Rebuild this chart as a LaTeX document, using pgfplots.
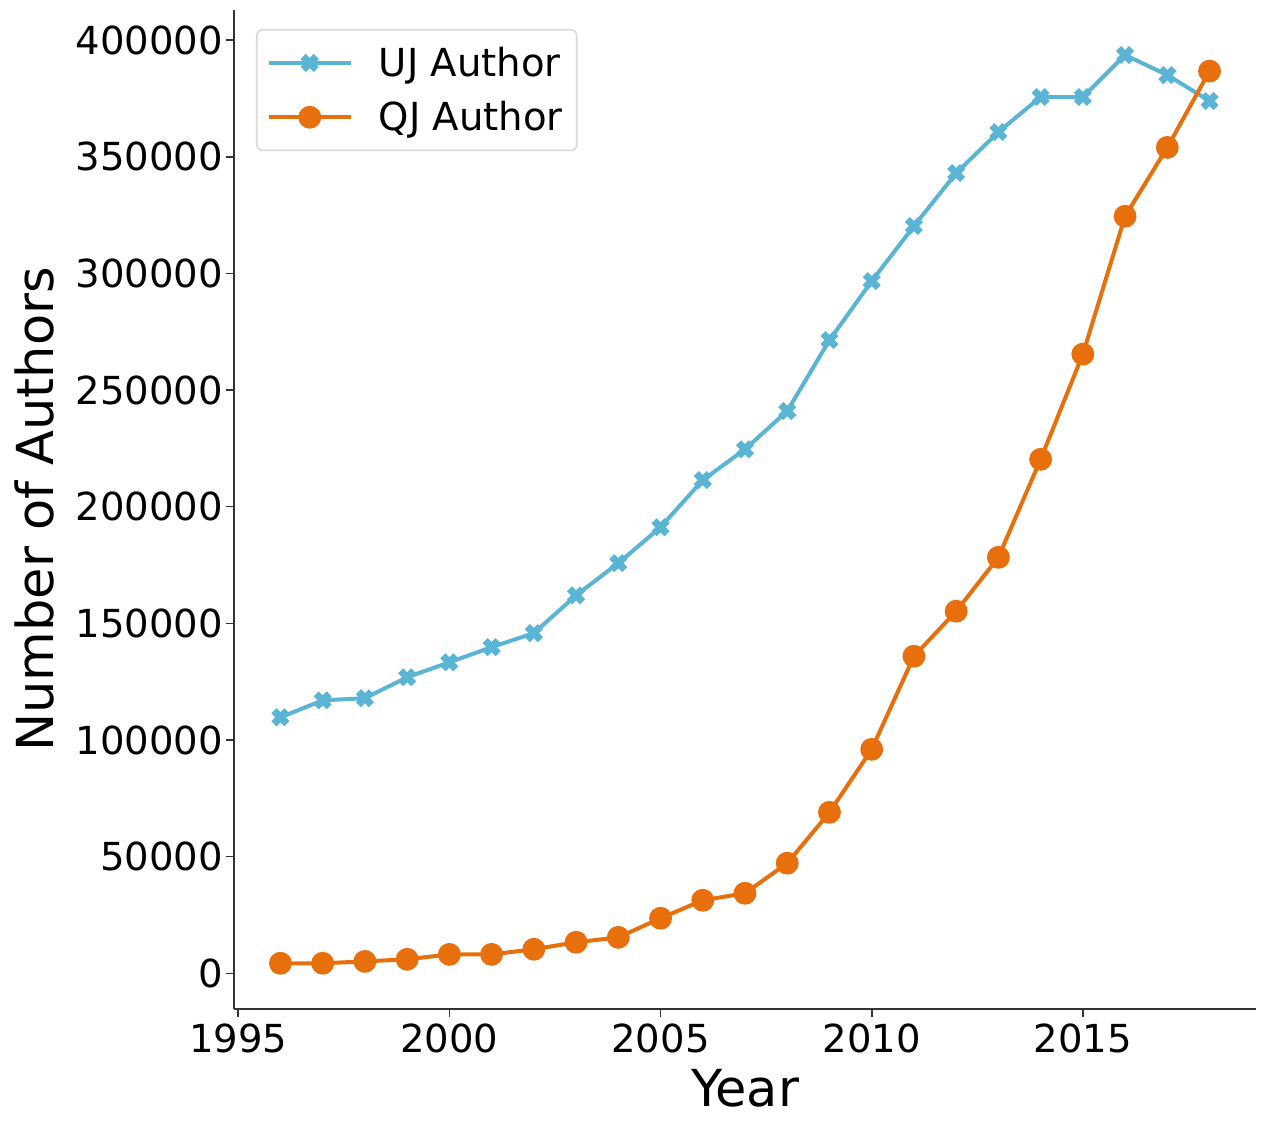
\documentclass[border=0pt]{standalone}
\usepackage{fontspec}
\setmainfont{DejaVu Sans}
\usepackage{pgfplots}
\pgfplotsset{compat=1.18}
\definecolor{ujblue}{HTML}{5AB4D4}
\definecolor{qjorange}{HTML}{E8700C}

\begin{document}
\begin{tikzpicture}
\begin{axis}[
  name=ax,
  scale only axis,
  width=511pt, height=499.5pt,
  xmin=1994.9, xmax=2019.1,
  ymin=-15300, ymax=412900,
  axis x line*=bottom, axis y line*=left,
  axis line style={line width=0.8pt, black!80},
  xtick={1995,2000,2005,2010,2015},
  ytick={0,50000,...,400000},
  scaled y ticks=false,
  tick align=outside,
  major tick length=4pt,
  tick style={line width=0.8pt, black!80},
  /pgf/number format/fixed,
  /pgf/number format/1000 sep={},
  /pgf/number format/assume math mode=true,
  ticklabel style={font=\fontsize{19.3}{23}\selectfont},
  yticklabel style={xshift=2pt},
  xlabel={Year}, ylabel={Number of Authors},
  label style={font=\fontsize{25.5}{30}\selectfont},
  ylabel shift=4pt, xlabel shift=1pt,
  legend style={at={(0.0215,0.981)}, anchor=north west,
    draw=black!15, rounded corners=3pt, line width=0.8pt,
    font=\fontsize{19.3}{23}\selectfont,
    row sep=7pt, column sep=11pt, inner xsep=5pt, inner ysep=6.5pt},
  legend cell align=left,
  legend image code/.code={
    \draw[mark repeat=2, mark phase=2, #1] plot coordinates {(0pt,0pt) (20.5pt,0pt) (41pt,0pt)};
  },
]
\addplot[color=ujblue, line width=2pt, mark=x, mark size=4.6pt,
  mark options={line width=3.6pt, solid}] coordinates {
(1996,109750) (1997,117000) (1998,117900) (1999,126900) (2000,133300)
(2001,139800) (2002,145800) (2003,162000) (2004,175800) (2005,191200)
(2006,211400) (2007,224600) (2008,241000) (2009,271400) (2010,296700)
(2011,320300) (2012,343000) (2013,360600) (2014,375600) (2015,375600)
(2016,393600) (2017,385000) (2018,373900)
};
\addlegendentry{UJ Author}
\addplot[color=qjorange, line width=2pt, mark=*, mark size=4.7pt,
  mark options={solid, draw=qjorange, fill=qjorange}] coordinates {
(1996,4300) (1997,4300) (1998,5100) (1999,6000) (2000,8100)
(2001,8100) (2002,10300) (2003,13300) (2004,15400) (2005,23600)
(2006,31300) (2007,34300) (2008,47200) (2009,69000) (2010,96000)
(2011,135900) (2012,155200) (2013,178300) (2014,220300) (2015,265400)
(2016,324500) (2017,354000) (2018,386700)
};
\addlegendentry{QJ Author}
\end{axis}
\pgfresetboundingbox
\path ([shift={(-117pt,-57.5pt)}]ax.south west) rectangle ([shift={(3.5pt,5pt)}]ax.north east);
\end{tikzpicture}
\end{document}
